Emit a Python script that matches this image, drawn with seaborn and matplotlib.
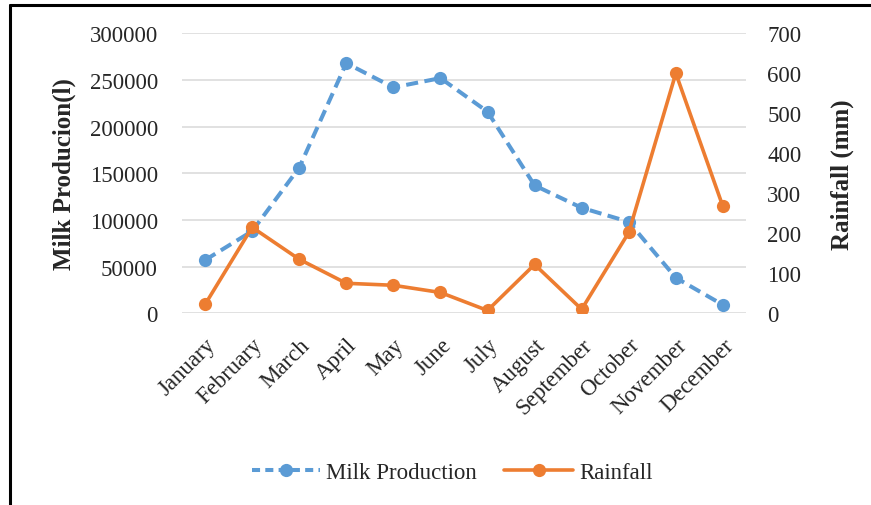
import matplotlib
matplotlib.use("Agg")
import matplotlib.pyplot as plt
from matplotlib.lines import Line2D
import seaborn as sns
import pandas as pd

months = ["January", "February", "March", "April", "May", "June", "July",
          "August", "September", "October", "November", "December"]
milk_production = [57000, 88000, 156000, 268000, 242000, 252000, 216000,
                   137000, 113000, 98000, 38000, 9000]
rainfall = [22, 215, 135, 75, 70, 52, 7, 122, 10, 202, 600, 267]

left_ticks = [0, 50000, 100000, 150000, 200000, 250000, 300000]
right_ticks = [0, 100, 200, 300, 400, 500, 600, 700]

blue = "#5B9BD5"
orange = "#ED7D31"

sns.set_theme(style="white")
plt.rcParams["font.family"] = ["Liberation Serif", "DejaVu Serif"]

df = pd.DataFrame({"pos": range(len(months)), "month": months,
                   "milk": milk_production, "rain": rainfall})

fig = plt.figure(figsize=(8.71, 5.06), dpi=100)
ax = fig.add_axes([0.2084, 0.3789, 0.6486, 0.5533])
ax2 = ax.twinx()

sns.lineplot(data=df, x="pos", y="milk", ax=ax, color=blue, linewidth=2.9,
             marker="o", markersize=9.5, markeredgewidth=0, sort=False,
             dashes=False, linestyle=(0, (3, 1.6)), zorder=3)
sns.lineplot(data=df, x="pos", y="rain", ax=ax2, color=orange, linewidth=2.6,
             marker="o", markersize=9.5, markeredgewidth=0, sort=False, zorder=3)

for a in (ax, ax2):
    for s in a.spines.values():
        s.set_visible(False)
    a.tick_params(length=0)
    a.set_xlim(-0.5, len(months) - 0.5)

tick_fs = 16.5
ax.set_ylim(0, 300000)
ax.set_yticks(left_ticks)
ax.set_yticklabels([str(v) for v in left_ticks], fontsize=tick_fs)
ax.yaxis.grid(True, color="#d9d9d9", linewidth=1.1)
ax.set_axisbelow(True)
ax2.set_ylim(0, 700)
ax2.set_yticks(right_ticks)
ax2.set_yticklabels([str(v) for v in right_ticks], fontsize=tick_fs)
ax2.grid(False)
ax.tick_params(axis="y", pad=17)
ax2.tick_params(axis="y", pad=15)

ax.set_xticks(range(len(months)))
ax.set_xticklabels(months, rotation=45, ha="right", rotation_mode="anchor",
                   fontsize=tick_fs)
ax.tick_params(axis="x", pad=15)
ax.set_xlabel("")
ax2.set_xlabel("")

ax.set_ylabel("Milk Producion(l)", fontsize=18, fontweight="bold", labelpad=10)
ax2.set_ylabel("Rainfall (mm)", fontsize=18, fontweight="bold", labelpad=21)

handles = [
    Line2D([0], [0], color=blue, linewidth=2.9, linestyle=(0, (2, 1.3)),
           marker="o", markersize=9.5, markeredgewidth=0),
    Line2D([0], [0], color=orange, linewidth=2.6, marker="o",
           markersize=9.5, markeredgewidth=0),
]
fig.legend(handles, ["Milk Production", "Rainfall"], loc="center",
           bbox_to_anchor=(0.519, 0.065), ncol=2, frameon=False,
           fontsize=tick_fs, handlelength=3.0, handletextpad=0.25,
           columnspacing=1.2)

# frame lines along the left and top edges
fig.add_artist(Line2D([0.0115, 0.0115], [0.0, 0.988], transform=fig.transFigure,
                      color="black", linewidth=2.2))
fig.add_artist(Line2D([0.0115, 1.0], [0.988, 0.988], transform=fig.transFigure,
                      color="black", linewidth=2.2))

fig.savefig("out.png", dpi=100, facecolor="white")
